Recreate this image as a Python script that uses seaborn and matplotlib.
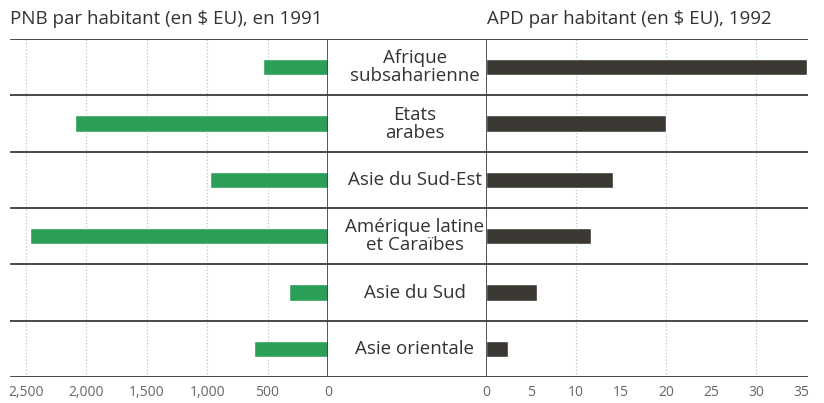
import matplotlib
matplotlib.use("Agg")
import matplotlib.pyplot as plt
import seaborn as sns
import pandas as pd

regions = ["Afrique\nsubsaharienne", "Etats\narabes", "Asie du Sud-Est",
           "Amérique latine\net Caraïbes", "Asie du Sud", "Asie orientale"]
pnb_1991 = [540, 2090, 980, 2470, 320, 610]
apd_1992 = [35.7, 20.0, 14.1, 11.7, 5.7, 2.4]
pnb_ticks = [0, 500, 1000, 1500, 2000, 2500]
pnb_ticklabels = ["0", "500", "1,000", "1,500", "2,000", "2,500"]
apd_ticks = [0, 5, 10, 15, 20, 25, 30, 35]

green = "#2b9e58"
dark = "#3b3732"
line_col = "#3a3a3a"
grid_col = "#a9bcc4"

df = pd.DataFrame({"region": regions, "pnb": pnb_1991, "apd": apd_1992})

sns.set_style("white")
plt.rcParams["font.family"] = ["Open Sans", "DejaVu Sans"]

fig = plt.figure(figsize=(8.24, 4.03), dpi=100)
bottom, height = 0.0645, 0.8387
ax_l = fig.add_axes([0.0121, bottom, 0.3859, height])
ax_m = fig.add_axes([0.3980, bottom, 0.1917, height])
ax_r = fig.add_axes([0.5898, bottom, 0.3908, height])

sns.barplot(data=df, x="pnb", y="region", orient="h", color=green,
            width=0.29, saturation=1, ax=ax_l)
sns.barplot(data=df, x="apd", y="region", orient="h", color=dark,
            width=0.29, saturation=1, ax=ax_r)

ax_l.set_xlim(2632, 0)
ax_r.set_xlim(0, 35.8)
ax_m.set_xlim(0, 1)

for ax in (ax_l, ax_m, ax_r):
    ax.set_ylim(5.5, -0.5)
    ax.set_xlabel("")
    ax.set_ylabel("")
    ax.set_yticks([])
    for s in ax.spines.values():
        s.set_visible(False)
    for k in range(len(regions) + 1):
        ax.axhline(k - 0.5, color=line_col, lw=1.3, zorder=3)

for v in pnb_ticks[1:]:
    ax_l.axvline(v, color=grid_col, lw=0.8, ls=(0, (1, 2)), zorder=0)
for v in [10, 20, 30]:
    ax_r.axvline(v, color=grid_col, lw=0.8, ls=(0, (1, 2)), zorder=0)
ax_l.axvline(0, color=line_col, lw=1.2, zorder=3)
ax_r.axvline(0, color=line_col, lw=1.2, zorder=3)

ax_l.set_xticks(pnb_ticks)
ax_l.set_xticklabels(pnb_ticklabels)
ax_r.set_xticks(apd_ticks)
ax_r.set_xticklabels([str(t) for t in apd_ticks])
for ax in (ax_l, ax_r):
    ax.tick_params(axis="x", length=0, pad=6, labelsize=10, labelcolor="#666666")
ax_m.set_xticks([])

for i, r in enumerate(regions):
    ax_m.text(0.55, i, r, ha="center", va="center", fontsize=13.5,
              color="#333333", linespacing=1.0)

fig.text(0.012, 0.953, "PNB par habitant (en \\$ EU), en 1991", ha="left",
         va="center", fontsize=13.5, color="#333333")
fig.text(0.591, 0.953, "APD par habitant (en \\$ EU), 1992", ha="left",
         va="center", fontsize=13.5, color="#333333")

fig.savefig("out.png", dpi=100)
